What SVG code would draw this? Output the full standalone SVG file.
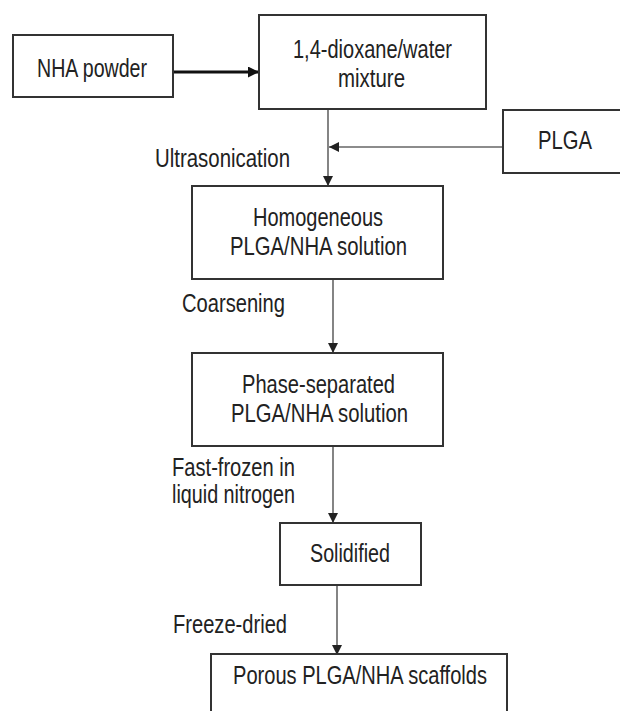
<svg xmlns="http://www.w3.org/2000/svg" width="620" height="711" viewBox="0 0 620 711">
<style>
.box{fill:#fff;stroke:#333;stroke-width:2}
.t{font-family:"Liberation Sans",Arial,sans-serif;font-size:25px;fill:#222}
.c{stroke:#666;stroke-width:1.6;fill:none}
.thick{stroke:#111;stroke-width:3.2;fill:none}
</style>
<defs>
<marker id="ah" viewBox="0 0 10 10" refX="10" refY="5" markerWidth="10" markerHeight="10" markerUnits="userSpaceOnUse" orient="auto"><path d="M0,0 L10,5 L0,10 z" fill="#222"/></marker>
<marker id="ahT" viewBox="0 0 10 10" refX="10" refY="5" markerWidth="12" markerHeight="11" markerUnits="userSpaceOnUse" orient="auto"><path d="M0,0 L10,5 L0,10 z" fill="#111"/></marker>
</defs>
<rect width="620" height="711" fill="#fff"/>
<g id="connectors">
<line class="thick" x1="173" y1="72" x2="259" y2="72" marker-end="url(#ahT)"/>
<line class="c" x1="328" y1="109" x2="328" y2="186" marker-end="url(#ah)"/>
<line class="c" x1="503" y1="147" x2="329" y2="147" marker-end="url(#ah)"/>
<line class="c" x1="333" y1="279" x2="333" y2="353" marker-end="url(#ah)"/>
<line class="c" x1="333" y1="446" x2="333" y2="523" marker-end="url(#ah)"/>
<line class="c" x1="337" y1="585" x2="337" y2="655" marker-end="url(#ah)"/>
</g>
<g id="labels">
<text class="t" x="155" y="167" textLength="135" lengthAdjust="spacingAndGlyphs">Ultrasonication</text>
<text class="t" x="182" y="312" textLength="103" lengthAdjust="spacingAndGlyphs">Coarsening</text>
<text class="t" x="172" y="476" textLength="123" lengthAdjust="spacingAndGlyphs">Fast-frozen in</text>
<text class="t" x="172" y="503" textLength="123" lengthAdjust="spacingAndGlyphs">liquid nitrogen</text>
<text class="t" x="173" y="633" textLength="114" lengthAdjust="spacingAndGlyphs">Freeze-dried</text>
</g>
<g id="nha">
<rect class="box" x="13" y="35" width="160" height="62"/>
<text class="t" x="37" y="77" textLength="110" lengthAdjust="spacingAndGlyphs">NHA powder</text>
</g>
<g id="dioxane">
<rect class="box" x="259" y="15" width="227" height="94"/>
<text class="t" x="293" y="58" textLength="159" lengthAdjust="spacingAndGlyphs">1,4-dioxane/water</text>
<text class="t" x="338" y="87" textLength="67" lengthAdjust="spacingAndGlyphs">mixture</text>
</g>
<g id="plga">
<rect class="box" x="503" y="110" width="130" height="63"/>
<text class="t" x="538" y="149" textLength="54" lengthAdjust="spacingAndGlyphs">PLGA</text>
</g>
<g id="homogeneous">
<rect class="box" x="192" y="186" width="251" height="93"/>
<text class="t" x="253" y="226" textLength="130" lengthAdjust="spacingAndGlyphs">Homogeneous</text>
<text class="t" x="230" y="255" textLength="177" lengthAdjust="spacingAndGlyphs">PLGA/NHA solution</text>
</g>
<g id="phase">
<rect class="box" x="192" y="353" width="251" height="93"/>
<text class="t" x="242" y="393" textLength="153" lengthAdjust="spacingAndGlyphs">Phase-separated</text>
<text class="t" x="231" y="422" textLength="177" lengthAdjust="spacingAndGlyphs">PLGA/NHA solution</text>
</g>
<g id="solidified">
<rect class="box" x="280" y="523" width="141" height="62"/>
<text class="t" x="310" y="562" textLength="80" lengthAdjust="spacingAndGlyphs">Solidified</text>
</g>
<g id="porous">
<rect class="box" x="211" y="654" width="296" height="80"/>
<text class="t" x="233" y="684" textLength="254" lengthAdjust="spacingAndGlyphs">Porous PLGA/NHA scaffolds</text>
</g>
</svg>
